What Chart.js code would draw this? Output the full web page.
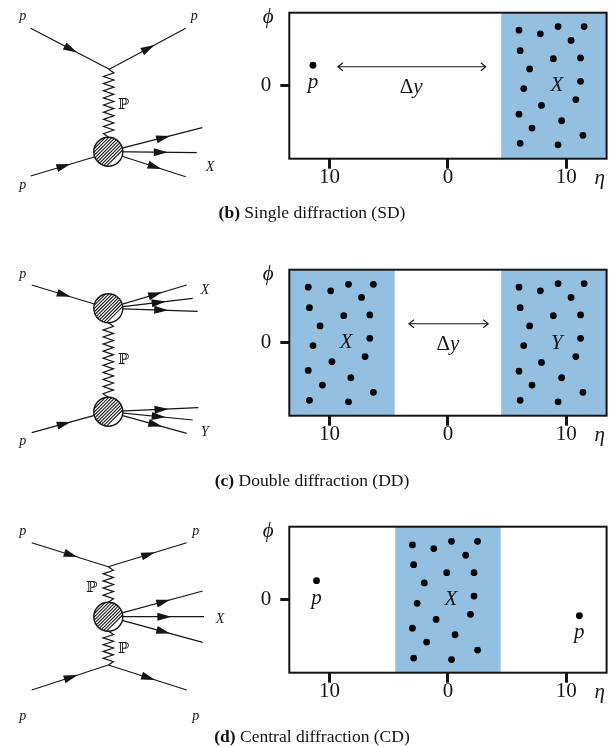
<!DOCTYPE html>
<html>
<head>
<meta charset="utf-8">
<script src="https://cdn.jsdelivr.net/npm/chart.js@4.4.1/dist/chart.umd.min.js"></script>
<style>
  html, body { margin: 0; padding: 0; background: #fff; }
  body { width: 610px; height: 747px; position: relative; overflow: hidden; }
  canvas { position: absolute; }
  .cap { position: absolute; left: 0; width: 624px; text-align: center;
         font-family: 'Liberation Serif', 'DejaVu Serif', serif; font-size: 17.5px;
         line-height: 20px; color: #111; }
</style>
</head>
<body>
<canvas id="dSD" width="240" height="257" style="left:0;top:0"></canvas>
<canvas id="pSD" width="370" height="200" style="left:240px;top:0"></canvas>
<canvas id="dDD" width="240" height="257" style="left:0;top:257px"></canvas>
<canvas id="pDD" width="370" height="200" style="left:240px;top:257px"></canvas>
<canvas id="dCD" width="240" height="257" style="left:0;top:514px"></canvas>
<canvas id="pCD" width="370" height="200" style="left:240px;top:514px"></canvas>
<div class="cap" style="top:202px"><b>(b)</b> Single diffraction (SD)</div>
<div class="cap" style="top:470px"><b>(c)</b> Double diffraction (DD)</div>
<div class="cap" style="top:726px"><b>(d)</b> Central diffraction (CD)</div>
<script>
// ---- shared axes ----
const ETA_RANGE = [-13.4, 13.4];
const PHI_RANGE = [-1, 1];
const ETA_TICKS = [-10, 0, 10];
const PHI_TICKS = [0];

// ---- (b) single diffraction: eta-phi plane ----
const SD_PROTON_ETA = [-11.4];
const SD_PROTON_PHI = [0.28];
const SD_X_ETA = [6.0, 7.8, 9.3, 11.5, 10.4, 6.1, 8.9, 11.2, 6.9, 11.2, 6.4, 10.8, 7.9, 6.0, 9.6, 7.1, 11.4, 6.1, 9.3];
const SD_X_PHI = [0.76, 0.71, 0.81, 0.81, 0.62, 0.48, 0.37, 0.38, 0.23, 0.06, -0.04, -0.19, -0.27, -0.39, -0.48, -0.58, -0.68, -0.79, -0.81];
const SD_BANDS = [[4.5, 13.4]];
const SD_ARROW = [-9.3, 3.2, 0.26];
const SD_TEXT = [['p', -11.4, 0.0], ['Δy', -3.1, -0.04], ['X', 9.2, 0.02]];

// ---- (c) double diffraction ----
const DD_X_ETA = [-11.8, -9.9, -8.4, -6.3, -7.3, -11.7, -8.8, -6.6, -10.8, -6.6, -11.4, -7.0, -9.8, -11.8, -8.2, -10.6, -6.3, -11.7, -8.4];
const DD_X_PHI = [0.76, 0.71, 0.80, 0.80, 0.62, 0.48, 0.37, 0.38, 0.23, 0.06, -0.04, -0.19, -0.26, -0.38, -0.48, -0.58, -0.68, -0.79, -0.81];
const DD_Y_ETA = [6.0, 7.8, 9.3, 11.5, 10.4, 6.1, 8.9, 11.2, 6.9, 11.2, 6.4, 10.8, 7.9, 6.0, 9.6, 7.1, 11.4, 6.1, 9.3];
const DD_Y_PHI = [0.76, 0.71, 0.81, 0.81, 0.62, 0.48, 0.37, 0.38, 0.23, 0.06, -0.04, -0.19, -0.27, -0.39, -0.48, -0.58, -0.68, -0.79, -0.81];
const DD_BANDS = [[-13.4, -4.5], [4.5, 13.4]];
const DD_ARROW = [-3.3, 3.4, 0.26];
const DD_TEXT = [['X', -8.6, 0.025], ['Δy', 0.0, -0.04], ['Y', 9.2, 0.015]];

// ---- (d) central diffraction ----
const CD_PROTON_ETA = [-11.1, 11.1];
const CD_PROTON_PHI = [0.26, -0.22];
const CD_X_ETA = [-3.0, -1.2, 0.3, 2.5, 1.5, -2.9, -0.1, 2.2, -2.0, 2.2, -2.6, 1.9, -1.0, -3.0, 0.6, -1.8, 2.5, -2.9, 0.3];
const CD_X_PHI = [0.75, 0.70, 0.80, 0.80, 0.61, 0.48, 0.37, 0.37, 0.23, 0.05, -0.05, -0.20, -0.27, -0.39, -0.48, -0.58, -0.69, -0.80, -0.82];
const CD_BANDS = [[-4.45, 4.45]];
const CD_TEXT = [['p', -11.1, -0.02], ['X', 0.25, 0.02], ['p', 11.1, -0.49]];

// ---- Feynman diagrams (diagram units, y downwards) ----
const SD_LINES = [[30.7, 28.3, 109.3, 69.3], [109.3, 69.3, 185.7, 28.3], [30.7, 176, 108.3, 152.7],
                  [108.3, 151.7, 202.3, 127.7], [108.3, 151.7, 196.7, 152.7], [108.3, 151.7, 185.7, 176.7]];
const SD_ZIGZAGS = [[108.7, 69.3, 137.2]];
const SD_BLOBS = [[108.3, 151.7, 14.5]];
const SD_LABELS = [['p', 22.7, 18.3], ['p', 194.3, 18.3], ['ℙ', 123.5, 103], ['p', 22.7, 186.7], ['X', 210, 165.7]];

const DD_LINES = [[31.7, 28, 108.3, 51.3], [108.3, 51.3, 186.7, 28], [108.3, 51.3, 192.7, 41.3], [108.3, 51.3, 197.7, 54.3],
                  [31.7, 175.7, 108.3, 154.7], [108.3, 154.7, 198.3, 150.7], [108.3, 154.7, 192.7, 163], [108.3, 154.7, 186.7, 176.3]];
const DD_ZIGZAGS = [[108.3, 65.8, 140.2]];
const DD_BLOBS = [[108.3, 51.3, 14.5], [108.3, 154.7, 14.5]];
const DD_LABELS = [['p', 22.7, 19], ['X', 205, 32.3], ['ℙ', 123.5, 101.3], ['Y', 205, 174], ['p', 22.7, 185.7]];

const CD_LINES = [[31.7, 28.7, 108.3, 52.7], [108.3, 52.7, 186.7, 28.7],
                  [108.3, 102.7, 202.7, 77], [108.3, 102.7, 204, 102.7], [108.3, 102.7, 202.7, 128.3],
                  [31.7, 176, 108.3, 151], [108.3, 151, 186.7, 176]];
const CD_ZIGZAGS = [[108.3, 52.7, 88.3], [108.3, 117.1, 151]];
const CD_BLOBS = [[108.3, 102.7, 14.5]];
const CD_LABELS = [['p', 22.7, 18.7], ['p', 195.7, 18.7], ['ℙ', 91.7, 72], ['X', 220, 103.7], ['ℙ', 123.5, 133.7],
                   ['p', 22.7, 204], ['p', 195.7, 204]];

const SERIF = "'Liberation Serif', 'DejaVu Serif', serif";
const INK = '#151515';
const BAND_COLOR = 'rgb(147, 192, 225)';

// Math-style text: upright capital Greek, everything else italic; centred on (cx, cy).
function drawMath(ctx, text, cx, cy, size) {
  const parts = [...text].map(ch => {
    const upright = /[\u0391-\u03A9\u2119]/.test(ch);
    const fam = ch === 'ℙ' ? "'DejaVu Serif', serif" : SERIF;
    return { ch, font: (upright ? '' : 'italic ') + size + 'px ' + fam };
  });
  let w = 0, asc = 0, desc = 0;
  for (const p of parts) {
    ctx.font = p.font;
    const m = ctx.measureText(p.ch);
    p.w = m.width; w += m.width;
    asc = Math.max(asc, m.actualBoundingBoxAscent);
    desc = Math.max(desc, m.actualBoundingBoxDescent);
  }
  let x = cx - w / 2;
  const base = cy + (asc - desc) / 2;
  ctx.textAlign = 'left';
  ctx.textBaseline = 'alphabetic';
  for (const p of parts) {
    ctx.font = p.font;
    ctx.fillText(p.ch, x, base);
    x += p.w;
  }
}

// Bands, gap arrow, in-plot labels, frame and axis symbols of an eta-phi panel.
const panelPlugin = {
  id: 'panel',
  beforeDatasetsDraw(chart, args, o) {
    const { ctx, chartArea: a, scales: { x } } = chart;
    ctx.save();
    ctx.fillStyle = BAND_COLOR;
    for (const [e0, e1] of o.bands) {
      const l = Math.max(x.getPixelForValue(e0), a.left);
      const r = Math.min(x.getPixelForValue(e1), a.right);
      ctx.fillRect(l, a.top, r - l, a.bottom - a.top);
    }
    ctx.restore();
  },
  afterDatasetsDraw(chart, args, o) {
    const { ctx, chartArea: a, scales: { x, y } } = chart;
    ctx.save();
    ctx.strokeStyle = INK;
    ctx.fillStyle = INK;
    if (o.arrow) {
      const [e0, e1, ph] = o.arrow;
      const x0 = x.getPixelForValue(e0), x1 = x.getPixelForValue(e1), py = y.getPixelForValue(ph);
      ctx.lineWidth = 1.1;
      ctx.beginPath();
      ctx.moveTo(x0, py); ctx.lineTo(x1, py);
      ctx.moveTo(x0 + 5, py - 4); ctx.lineTo(x0, py); ctx.lineTo(x0 + 5, py + 4);
      ctx.moveTo(x1 - 5, py - 4); ctx.lineTo(x1, py); ctx.lineTo(x1 - 5, py + 4);
      ctx.stroke();
    }
    for (const [t, e, ph] of o.text) {
      drawMath(ctx, t, x.getPixelForValue(e), y.getPixelForValue(ph), 21);
    }
    ctx.lineWidth = 2;
    ctx.strokeRect(a.left, a.top, a.right - a.left, a.bottom - a.top);
    drawMath(ctx, 'ϕ', a.left - 21, a.top + 5, 21);
    drawMath(ctx, 'η', a.right - 7, a.bottom + 23, 21);
    ctx.restore();
  }
};

function makePanel(id, groups, bands, text, arrow) {
  return new Chart(document.getElementById(id), {
    type: 'scatter',
    data: {
      datasets: groups.map(([etas, phis]) => ({
        data: etas.map((e, i) => ({ x: e, y: phis[i] })),
        pointRadius: 3.4, pointHoverRadius: 3.4,
        backgroundColor: '#000', borderWidth: 0
      }))
    },
    options: {
      responsive: false, animation: false, events: [],
      layout: { padding: { left: 0, right: 1.7, top: 12.7, bottom: 0 } },
      plugins: { legend: { display: false }, tooltip: { enabled: false },
                 panel: { bands, text, arrow } },
      scales: {
        x: {
          type: 'linear', min: ETA_RANGE[0], max: ETA_RANGE[1],
          afterBuildTicks: s => { s.ticks = ETA_TICKS.map(v => ({ value: v })); },
          afterFit: s => { s.height = 41.3; s.paddingLeft = 0; s.paddingRight = 0; },
          ticks: { callback: v => String(Math.abs(v)), font: { family: SERIF, size: 21 },
                   color: INK, padding: -4, maxRotation: 0, autoSkip: false },
          grid: { drawOnChartArea: false, tickLength: 10, tickWidth: 3, tickColor: INK },
          border: { display: false }
        },
        y: {
          type: 'linear', min: PHI_RANGE[0], max: PHI_RANGE[1],
          afterBuildTicks: s => { s.ticks = PHI_TICKS.map(v => ({ value: v })); },
          afterFit: s => { s.width = 49.3; s.paddingTop = 0; s.paddingBottom = 0; },
          ticks: { font: { family: SERIF, size: 21 }, color: INK, padding: 9 },
          grid: { drawOnChartArea: false, tickLength: 9, tickWidth: 3, tickColor: INK },
          border: { display: false }
        }
      }
    },
    plugins: [panelPlugin]
  });
}

// Clip a point to the edge of whichever blob contains it.
function clipToBlobs(px, py, qx, qy, blobs) {
  for (const [cx, cy, r] of blobs) {
    if (Math.hypot(px - cx, py - cy) < r - 0.01) {
      const dx = qx - px, dy = qy - py, L = Math.hypot(dx, dy);
      const ux = dx / L, uy = dy / L;
      const fx = px - cx, fy = py - cy;
      const b = fx * ux + fy * uy, c = fx * fx + fy * fy - r * r;
      const t = -b + Math.sqrt(b * b - c);
      return [px + ux * t, py + uy * t];
    }
  }
  return [px, py];
}

// Propagator arrows, pomeron zigzags, hatched blobs and particle labels.
const diagramPlugin = {
  id: 'diagram',
  afterDatasetsDraw(chart, args, o) {
    const { ctx, scales: { x, y } } = chart;
    const X = v => x.getPixelForValue(v), Y = v => y.getPixelForValue(v);
    ctx.save();
    ctx.strokeStyle = INK; ctx.fillStyle = INK;
    ctx.lineJoin = 'miter';

    // zigzag pomeron lines
    ctx.lineWidth = 1.2;
    for (const [zx, y0, y1] of o.zigzags) {
      const n = Math.max(2, Math.round((y1 - y0) / 3.5));
      const step = (y1 - y0) / n;
      ctx.beginPath();
      ctx.moveTo(X(zx), Y(y0));
      for (let i = 1; i < n; i++) {
        ctx.lineTo(X(zx + (i % 2 ? 5.2 : -5.2)), Y(y0 + i * step));
      }
      ctx.lineTo(X(zx), Y(y1));
      ctx.stroke();
    }

    // hatched blobs
    for (const [cx, cy, r] of o.blobs) {
      const px = X(cx), py = Y(cy), pr = Math.abs(X(cx + r) - X(cx));
      ctx.save();
      ctx.beginPath(); ctx.arc(px, py, pr, 0, Math.PI * 2);
      ctx.fillStyle = '#fff'; ctx.fill();
      ctx.clip();
      ctx.lineWidth = 1.1;
      ctx.beginPath();
      for (let k = -2 * pr; k <= 2 * pr; k += 3.3) {
        ctx.moveTo(px - pr + k - pr, py + pr);
        ctx.lineTo(px - pr + k + pr, py - pr);
      }
      ctx.stroke();
      ctx.restore();
      ctx.lineWidth = 1.4;
      ctx.beginPath(); ctx.arc(px, py, pr, 0, Math.PI * 2); ctx.stroke();
    }

    // arrowheads at the middle of each visible line
    for (const [x1, y1, x2, y2] of o.lines) {
      const [sx, sy] = clipToBlobs(x1, y1, x2, y2, o.blobs);
      const [ex, ey] = clipToBlobs(x2, y2, x1, y1, o.blobs);
      const mx = X((sx + ex) / 2), my = Y((sy + ey) / 2);
      const ang = Math.atan2(Y(ey) - Y(sy), X(ex) - X(sx));
      ctx.save();
      ctx.translate(mx, my); ctx.rotate(ang);
      ctx.beginPath();
      ctx.moveTo(8, 0); ctx.lineTo(-6, -4); ctx.lineTo(-6, 4); ctx.closePath();
      ctx.fill();
      ctx.restore();
    }

    // labels
    ctx.fillStyle = INK;
    for (const [t, lx, ly] of o.labels) {
      drawMath(ctx, t, X(lx), Y(ly), t === 'ℙ' ? 15 : 14);
    }
    ctx.restore();
  }
};

function makeDiagram(id, lines, zigzags, blobs, labels) {
  return new Chart(document.getElementById(id), {
    type: 'scatter',
    data: {
      datasets: lines.map(([x1, y1, x2, y2]) => ({
        data: [{ x: x1, y: y1 }, { x: x2, y: y2 }],
        showLine: true, pointRadius: 0, borderColor: INK, borderWidth: 1.2
      }))
    },
    options: {
      responsive: false, animation: false, events: [],
      layout: { padding: 0 },
      plugins: { legend: { display: false }, tooltip: { enabled: false },
                 diagram: { lines, zigzags, blobs, labels } },
      scales: {
        x: { type: 'linear', min: 0, max: 240, display: false },
        y: { type: 'linear', min: 0, max: 257, reverse: true, display: false }
      }
    },
    plugins: [diagramPlugin]
  });
}

makeDiagram('dSD', SD_LINES, SD_ZIGZAGS, SD_BLOBS, SD_LABELS);
makeDiagram('dDD', DD_LINES, DD_ZIGZAGS, DD_BLOBS, DD_LABELS);
makeDiagram('dCD', CD_LINES, CD_ZIGZAGS, CD_BLOBS, CD_LABELS);

makePanel('pSD', [[SD_PROTON_ETA, SD_PROTON_PHI], [SD_X_ETA, SD_X_PHI]], SD_BANDS, SD_TEXT, SD_ARROW);
makePanel('pDD', [[DD_X_ETA, DD_X_PHI], [DD_Y_ETA, DD_Y_PHI]], DD_BANDS, DD_TEXT, DD_ARROW);
makePanel('pCD', [[CD_PROTON_ETA, CD_PROTON_PHI], [CD_X_ETA, CD_X_PHI]], CD_BANDS, CD_TEXT, null);
</script>
</body>
</html>
